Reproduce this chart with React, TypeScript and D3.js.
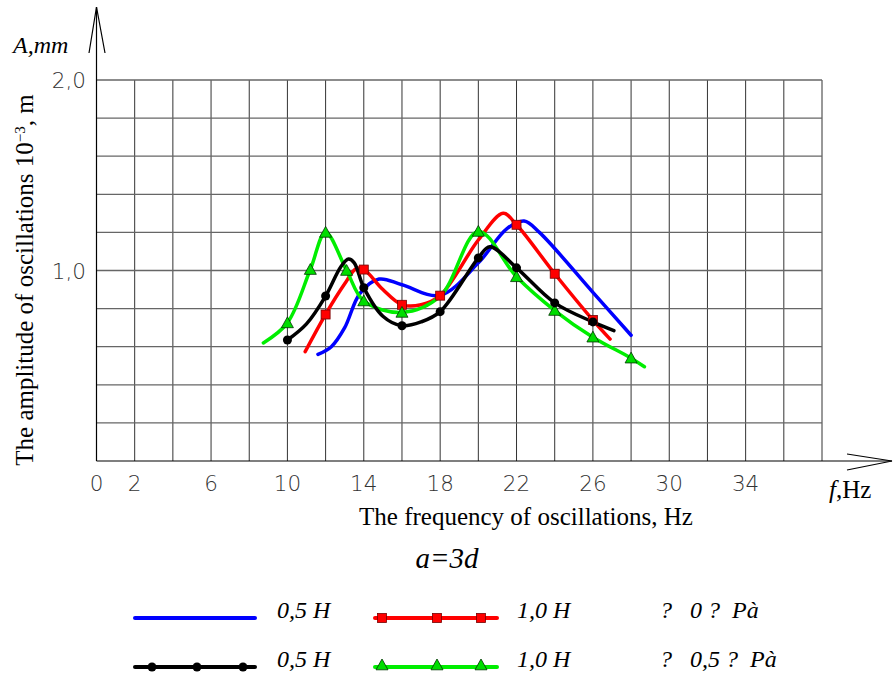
import React from "react";
import * as d3 from "d3";

// frequency (Hz) / amplitude pairs
const blueF = [11.6, 12.3, 13.0, 13.8, 14.8, 16, 18, 20, 21.5, 22.4, 23.2, 26, 28];
const blueA = [0.56, 0.6, 0.7, 0.88, 0.955, 0.925, 0.87, 1.04, 1.22, 1.26, 1.2, 0.885, 0.66];

const redF = [10.93, 12, 13.0, 13.6, 14, 15, 16, 17, 18, 20, 21.3, 22, 24, 26, 26.9];
const redA = [0.574, 0.77, 0.93, 1.01, 1.005, 0.9, 0.82, 0.82, 0.868, 1.16, 1.3, 1.24, 0.983, 0.74, 0.64];
const redMarkF = [12, 14, 16, 18, 22, 24, 26];
const redMarkA = [0.769, 1.005, 0.82, 0.868, 1.24, 0.983, 0.74];

const greenF = [8.74, 10, 11.2, 12, 13.1, 14, 16, 18, 20, 22, 24, 26, 28, 28.7];
const greenA = [0.62, 0.725, 1.005, 1.2, 1.0, 0.84, 0.78, 0.865, 1.205, 0.967, 0.79, 0.65, 0.54, 0.495];
const greenMarkF = [10, 11.2, 12, 13.1, 14, 16, 20, 22, 24, 26, 28];
const greenMarkA = [0.725, 1.005, 1.2, 1.0, 0.84, 0.78, 1.205, 0.967, 0.79, 0.65, 0.54];

const blackF = [10, 11, 12, 12.8, 13.2, 13.5, 14, 15, 16, 17, 18, 20, 20.6, 22, 24, 26, 27.1];
const blackA = [0.635, 0.72, 0.866, 1.02, 1.06, 1.04, 0.91, 0.76, 0.71, 0.73, 0.784, 1.066, 1.125, 1.014, 0.83, 0.73, 0.684];
const blackMarkF = [10, 12, 14, 16, 18, 20, 22, 24, 26];
const blackMarkA = [0.635, 0.866, 0.91, 0.71, 0.784, 1.066, 1.014, 0.83, 0.73];

const xTickLabels = [0, 2, 6, 10, 14, 18, 22, 26, 30, 34];
const yTickValues = [2, 1];
const yTickLabels = ["2,0", "1,0"];

const legendRow1 = ["0,5 H", "1,0 H", "?   0 ?  Pà"];
const legendRow2 = ["0,5 H", "1,0 H", "?   0,5 ?  Pà"];

const zip = (f: number[], a: number[]) => f.map((v, i) => [v, a[i]] as [number, number]);

export default function App() {
  // plot scales
  const x = d3.scaleLinear().domain([0, 38]).range([96.5, 822]);
  const y = d3.scaleLinear().domain([0, 2]).range([461, 80]);

  const line = d3
    .line<[number, number]>()
    .x((d) => x(d[0]))
    .y((d) => y(d[1]))
    .curve(d3.curveCatmullRom.alpha(0.5));

  const vGrid = d3.range(2, 39, 2);
  const hGrid = d3.range(1, 11).map((i) => i * 0.2);

  const serif = "'Liberation Serif', 'Times New Roman', serif";
  const sans = "'DejaVu Sans', sans-serif";

  const tri = (cx: number, cy: number, s = 6) =>
    `M${cx},${cy - s} L${cx + s},${cy + s * 0.8} L${cx - s},${cy + s * 0.8} Z`;

  return (
    <svg
      width={893}
      height={674}
      style={{ position: "absolute", left: 0, top: 0, background: "#fff" }}
    >
      {/* grid */}
      <g>
        {vGrid.map((v) => (
          <line key={"v" + v} x1={x(v)} x2={x(v)} y1={y(0)} y2={y(2)} stroke="#333" strokeWidth={1} />
        ))}
        {hGrid.map((v) => (
          <line key={"h" + v} x1={x(0)} x2={x(38)} y1={y(v)} y2={y(v)} stroke="#666" strokeWidth={1.3} />
        ))}
      </g>

      {/* axes with open arrows */}
      <g stroke="#000" strokeWidth={1.2} fill="none">
        <line x1={x(0)} x2={x(0)} y1={y(0)} y2={7} />
        <polyline points={`89,53 ${x(0)},7 105,53`} />
        <line x1={x(0)} x2={892} y1={y(0)} y2={y(0)} />
        <polyline points={`847,454 892,${y(0)} 847,470`} />
      </g>

      {/* tick labels */}
      <g fontFamily={sans} fontWeight={200} fontSize={21.5} fill="#333">
        {xTickLabels.map((t) => (
          <text key={"xt" + t} x={x(t)} y={491} textAnchor="middle">
            {t}
          </text>
        ))}
        {yTickValues.map((v, i) => (
          <text key={"yt" + v} x={86} y={y(v) + 8} textAnchor="end">
            {yTickLabels[i]}
          </text>
        ))}
      </g>

      {/* curves */}
      <g fill="none" strokeWidth={3.5} strokeLinecap="round">
        <path d={line(zip(blueF, blueA)) || ""} stroke="#0000ff" />
        <path d={line(zip(redF, redA)) || ""} stroke="#ff0000" />
        <path d={line(zip(greenF, greenA)) || ""} stroke="#00ee00" />
        <path d={line(zip(blackF, blackA)) || ""} stroke="#000" />
      </g>

      {/* markers */}
      <g>
        {zip(redMarkF, redMarkA).map((d, i) => (
          <rect key={"r" + i} x={x(d[0]) - 4.5} y={y(d[1]) - 4.5} width={9} height={9} fill="#ff0000" stroke="#700" strokeWidth={0.8} />
        ))}
        {zip(greenMarkF, greenMarkA).map((d, i) => (
          <path key={"g" + i} d={tri(x(d[0]), y(d[1]))} fill="#00dd00" stroke="#030" strokeWidth={0.8} />
        ))}
        {zip(blackMarkF, blackMarkA).map((d, i) => (
          <circle key={"b" + i} cx={x(d[0])} cy={y(d[1])} r={4.5} fill="#000" />
        ))}
      </g>

      {/* axis titles */}
      <text x={13} y={53} fontFamily={serif} fontStyle="italic" fontSize={24}>
        A,mm
      </text>
      <text x={829} y={498} fontFamily={serif} fontSize={25}>
        <tspan fontStyle="italic">f</tspan>,Hz
      </text>
      <text
        transform="translate(33,280) rotate(-90)"
        textAnchor="middle"
        fontFamily={serif}
        fontSize={25}
      >
        The amplitude of oscillations 10
        <tspan dy={-8} fontSize={15}>
          −3
        </tspan>
        <tspan dy={8}>, m</tspan>
      </text>
      <text x={526} y={525} textAnchor="middle" fontFamily={serif} fontSize={25}>
        The frequency of oscillations, Hz
      </text>
      <text x={447} y={568} textAnchor="middle" fontFamily={serif} fontStyle="italic" fontSize={29}>
        a=3d
      </text>

      {/* legend */}
      <g strokeWidth={4} strokeLinecap="round">
        <line x1={135} x2={255} y1={618} y2={618} stroke="#0000ff" />
        <line x1={375} x2={497} y1={618} y2={618} stroke="#ff0000" />
        <line x1={135} x2={255} y1={667} y2={667} stroke="#000" />
        <line x1={375} x2={497} y1={667} y2={667} stroke="#00ee00" />
      </g>
      {[382, 437, 481].map((cx) => (
        <rect key={"lr" + cx} x={cx - 4.5} y={618 - 4.5} width={9} height={9} fill="#ff0000" stroke="#700" strokeWidth={0.8} />
      ))}
      {[382, 437, 481].map((cx) => (
        <path key={"lg" + cx} d={tri(cx, 665)} fill="#00dd00" stroke="#030" strokeWidth={0.8} />
      ))}
      {[152, 197, 243].map((cx) => (
        <circle key={"lb" + cx} cx={cx} cy={667} r={4.5} fill="#000" />
      ))}
      <g fontFamily={serif} fontStyle="italic" fontSize={24}>
        <text x={277} y={618}>{legendRow1[0]}</text>
        <text x={517} y={618}>{legendRow1[1]}</text>
        <text x={660} y={618} style={{ whiteSpace: "pre" }}>{legendRow1[2]}</text>
        <text x={277} y={667}>{legendRow2[0]}</text>
        <text x={517} y={667}>{legendRow2[1]}</text>
        <text x={660} y={667} style={{ whiteSpace: "pre" }}>{legendRow2[2]}</text>
      </g>
    </svg>
  );
}
